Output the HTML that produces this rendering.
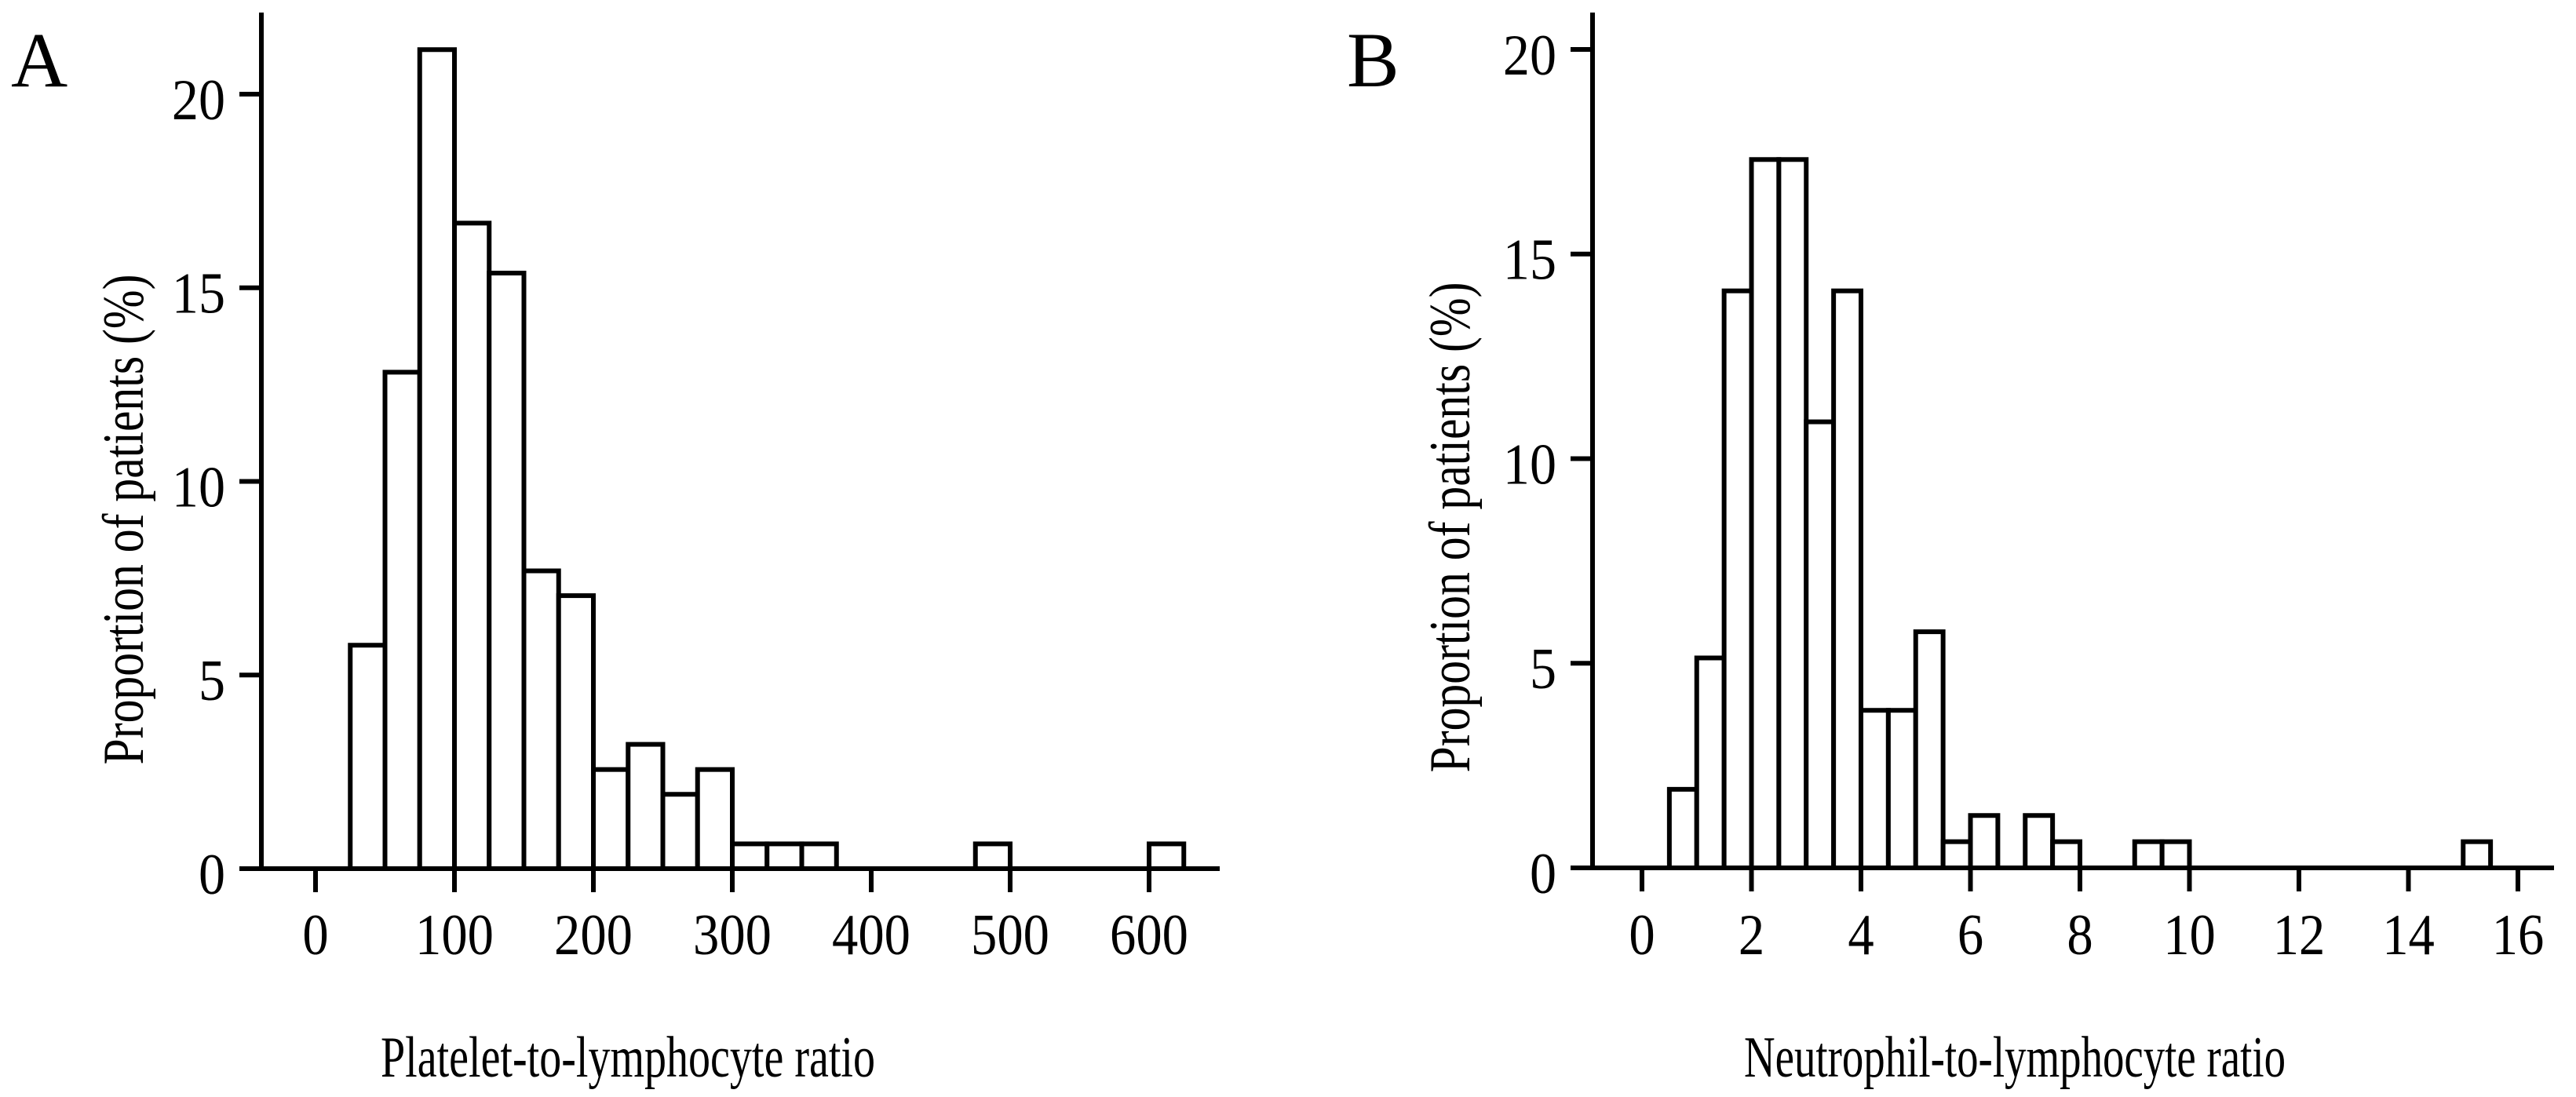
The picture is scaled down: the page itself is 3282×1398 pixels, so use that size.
<!DOCTYPE html>
<html><head><meta charset="utf-8"><style>
html,body{margin:0;padding:0;background:#fff;}
svg{display:block;}
text{font-family:"Liberation Serif","Times New Roman","DejaVu Serif",serif;fill:#000;}
</style></head>
<body>
<svg id="chart" width="3282" height="1398" viewBox="0 0 3282 1398" xmlns="http://www.w3.org/2000/svg">
<rect width="3282" height="1398" fill="#fff"/>
<g id="panelA"></g>
<g id="panelB"></g>
</svg>
<script>
// Panel A: Platelet-to-lymphocyte ratio, bins of 25
const plrBinStarts = [25,50,75,100,125,150,175,200,225,250,275,300,325,350,475,600];
const plrValues = [5.77,12.82,21.15,16.67,15.38,7.69,7.05,2.56,3.21,1.92,2.56,0.64,0.64,0.64,0.64,0.64];
const plrXTicks = [0,100,200,300,400,500,600];
const plrYTicks = [0,5,10,15,20];
// Panel B: Neutrophil-to-lymphocyte ratio, bins of 0.5
const nlrBinStarts = [0.5,1,1.5,2,2.5,3,3.5,4,4.5,5,5.5,6,7,7.5,9,9.5,15];
const nlrValues = [1.92,5.13,14.10,17.31,17.31,10.90,14.10,3.85,3.85,5.77,0.64,1.28,1.28,0.64,0.64,0.64,0.64];
const nlrXTicks = [0,2,4,6,8,10,12,14,16];
const nlrYTicks = [0,5,10,15,20];

const NS = "http://www.w3.org/2000/svg";
function mk(tag, attrs, parent){
  const e = document.createElementNS(NS, tag);
  for (const k in attrs) e.setAttribute(k, attrs[k]);
  parent.appendChild(e);
  return e;
}

function drawPanel(g, cfg){
  const xs = v => cfg.x0 + (v - cfg.xmin) * cfg.xs;
  const ys = v => cfg.base - v * cfg.ys;
  cfg.bins.forEach((b, i) => {
    const x1 = xs(b), x2 = xs(b + cfg.bw), y = ys(cfg.vals[i]);
    const r = mk('rect', {x:x1, y:y, width:x2-x1, height:cfg.base-y, fill:'#fff', stroke:'#000', 'stroke-width':6}, g);
    
    
  });
  const ya = mk('line', {x1:cfg.ax, y1:16, x2:cfg.ax, y2:cfg.base+3, stroke:'#000', 'stroke-width':6}, g);
  
  
  const xa = mk('line', {x1:cfg.ax, y1:cfg.base, x2:cfg.xend, y2:cfg.base, stroke:'#000', 'stroke-width':6}, g);
  
  
  cfg.yticks.forEach(t => {
    const y = ys(t);
    const l = mk('line', {x1:cfg.ax-28, y1:y, x2:cfg.ax, y2:y, stroke:'#000', 'stroke-width':6}, g);
    
    
    const tx = mk('text', {x:cfg.ax-46, y:y+32, 'font-size':74, 'text-anchor':'end', transform:`translate(${cfg.ax-46} 0) scale(0.92 1) translate(${-(cfg.ax-46)} 0)`}, g);
    tx.textContent = t;
    
    
  });
  cfg.xticks.forEach(t => {
    const x = xs(t);
    const l = mk('line', {x1:x, y1:cfg.base, x2:x, y2:cfg.base+30, stroke:'#000', 'stroke-width':6}, g);
    
    
    const tx = mk('text', {x:x, y:1216, 'font-size':74, 'text-anchor':'middle', transform:`translate(${x} 0) scale(0.9 1) translate(${-x} 0)`}, g);
    tx.textContent = t;
    
    
  });
  const yt = mk('text', {x:0, y:0, 'font-size':74, 'text-anchor':'middle', textLength:625, lengthAdjust:'spacingAndGlyphs', transform:`translate(${cfg.ytx} ${cfg.yty}) rotate(-90)`}, g);
  yt.textContent = 'Proportion of patients (%)';
  
  
  const xt = mk('text', {x:cfg.xtx, y:1372, 'font-size':74, 'text-anchor':'start', textLength:cfg.xtl, lengthAdjust:'spacingAndGlyphs'}, g);
  xt.textContent = cfg.xtitle;
  
  
  const pl = mk('text', {x:cfg.lx, y:110, 'font-size':100}, g);
  pl.textContent = cfg.letter;
  
  
}

drawPanel(document.getElementById('panelA'), {
  bins: plrBinStarts, vals: plrValues, bw: 25, xmin: 0, x0: 402, xs: 1.770,
  base: 1107, ys: 49.35, ax: 333, xend: 1554,
  xticks: plrXTicks, yticks: plrYTicks,
  ytx: 182, yty: 662, xtx: 485, xtl: 630,
  xtitle: 'Platelet-to-lymphocyte ratio', letter: 'A', lx: 14
});
drawPanel(document.getElementById('panelB'), {
  bins: nlrBinStarts, vals: nlrValues, bw: 0.5, xmin: 0, x0: 2092, xs: 69.75,
  base: 1106, ys: 52.15, ax: 2029, xend: 3254,
  xticks: nlrXTicks, yticks: nlrYTicks,
  ytx: 1872, yty: 672, xtx: 2222, xtl: 690,
  xtitle: 'Neutrophil-to-lymphocyte ratio', letter: 'B', lx: 1716
});
</script>
</body></html>
